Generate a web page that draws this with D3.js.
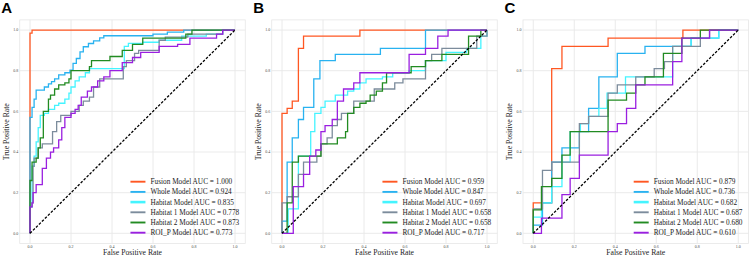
<!DOCTYPE html>
<html lang="en">
<head>
<meta charset="UTF-8">
<title>roc_panels</title>
<script src="https://cdn.jsdelivr.net/npm/d3@7"></script>
<style>
  body { margin: 0; background: #fff; }
  svg { display: block; }
</style>
</head>
<body>
<svg width="749" height="256" id="mainsvg"></svg>
<script>
// ---- data: each point = [fpr, tpr reached at that fpr] (step after) ----
const modelNames = ['Fusion Model', 'Whole Model', 'Habitat Model', 'Habitat 1 Model', 'Habitat 2 Model', 'ROI_P Model'];
const modelColors = ['#FF5722', '#29B2F0', '#44F4FF', '#7C8C9C', '#228B22', '#9A1FE0'];
const panelLabels = ['A', 'B', 'C'];
const ticks = [0, 0.2, 0.4, 0.6, 0.8, 1.0];

const aucA = ['1.000', '0.924', '0.835', '0.778', '0.873', '0.773'];
const aucB = ['0.959', '0.847', '0.697', '0.658', '0.658', '0.717'];
const aucC = ['0.879', '0.736', '0.682', '0.687', '0.680', '0.610'];

// panel A
const fusionA = [[0,0],[0,0.985],[0.01,1.0],[1,1]];
const wholeA = [[0,0.57],[0.01,0.62],[0.02,0.66],[0.03,0.705],[0.07,0.72],[0.09,0.735],[0.105,0.746],[0.12,0.76],[0.14,0.78],[0.17,0.79],[0.195,0.803],[0.21,0.836],[0.226,0.86],[0.244,0.893],[0.26,0.918],[0.285,0.934],[0.31,0.947],[0.34,0.962],[0.36,0.972],[0.60,0.98],[0.67,0.99],[0.75,1.0],[1,1]];
const habitatA = [[0,0.13],[0.01,0.33],[0.02,0.38],[0.03,0.45],[0.04,0.52],[0.05,0.58],[0.07,0.59],[0.09,0.61],[0.12,0.63],[0.14,0.64],[0.17,0.66],[0.19,0.69],[0.20,0.72],[0.22,0.75],[0.24,0.77],[0.27,0.79],[0.29,0.81],[0.46,0.92],[0.48,0.935],[0.55,0.94],[0.63,0.95],[0.74,0.97],[0.86,0.98],[0.94,1.0],[1,1]];
const habitat1A = [[0,0.13],[0.01,0.15],[0.015,0.33],[0.02,0.37],[0.04,0.42],[0.06,0.44],[0.11,0.50],[0.13,0.55],[0.15,0.58],[0.20,0.60],[0.24,0.63],[0.26,0.65],[0.29,0.67],[0.31,0.72],[0.34,0.76],[0.455,0.82],[0.47,0.85],[0.51,0.885],[0.53,0.90],[0.63,0.95],[0.66,0.965],[0.77,0.98],[0.94,1.0],[1,1]];
const habitat2A = [[0,0.26],[0.01,0.35],[0.03,0.37],[0.04,0.42],[0.05,0.47],[0.065,0.60],[0.09,0.66],[0.10,0.68],[0.12,0.71],[0.14,0.73],[0.17,0.74],[0.19,0.76],[0.20,0.80],[0.29,0.82],[0.30,0.85],[0.39,0.87],[0.45,0.90],[0.50,0.93],[0.55,0.96],[0.76,0.98],[0.79,1.0],[1,1]];
const roiA = [[0,0.13],[0.01,0.15],[0.015,0.20],[0.03,0.24],[0.06,0.32],[0.08,0.37],[0.10,0.40],[0.115,0.42],[0.14,0.46],[0.155,0.52],[0.17,0.57],[0.20,0.59],[0.22,0.61],[0.235,0.63],[0.25,0.67],[0.28,0.70],[0.30,0.72],[0.33,0.75],[0.36,0.77],[0.39,0.80],[0.45,0.84],[0.50,0.865],[0.54,0.89],[0.63,0.92],[0.72,0.93],[0.78,0.96],[0.91,0.98],[0.94,1.0],[1,1]];

// panel B
const fusionB = [[0,0.59],[0.025,0.615],[0.05,0.65],[0.08,0.91],[0.105,0.97],[0.38,1.0],[1,1]];
const wholeB = [[0,0.06],[0.025,0.35],[0.05,0.47],[0.08,0.56],[0.105,0.62],[0.155,0.76],[0.185,0.85],[0.26,0.88],[0.48,0.91],[0.70,1.0],[1,1]];
const habitatB = [[0,0],[0.03,0.12],[0.08,0.38],[0.14,0.50],[0.16,0.59],[0.19,0.62],[0.21,0.65],[0.26,0.68],[0.32,0.70],[0.35,0.71],[0.38,0.74],[0.41,0.76],[0.49,0.77],[0.54,0.79],[0.62,0.80],[0.70,0.85],[0.80,0.89],[0.90,0.91],[0.97,0.97],[1.0,1.0]];
const habitat1B = [[0,0.15],[0.025,0.18],[0.08,0.29],[0.105,0.35],[0.17,0.38],[0.19,0.44],[0.22,0.47],[0.245,0.53],[0.27,0.56],[0.29,0.59],[0.35,0.65],[0.45,0.71],[0.55,0.74],[0.59,0.76],[0.70,0.85],[0.73,0.88],[0.78,0.91],[0.95,0.97],[1,1]];
const habitat2B = [[0,0],[0.025,0.15],[0.05,0.35],[0.08,0.38],[0.19,0.44],[0.27,0.47],[0.31,0.50],[0.32,0.59],[0.35,0.62],[0.38,0.64],[0.41,0.65],[0.43,0.68],[0.46,0.70],[0.49,0.74],[0.51,0.79],[0.63,0.82],[0.70,0.85],[0.78,0.88],[0.91,0.97],[0.97,1.0],[1,1]];
const roiB = [[0,0],[0.055,0.23],[0.105,0.29],[0.135,0.38],[0.165,0.41],[0.19,0.50],[0.21,0.53],[0.245,0.56],[0.27,0.65],[0.30,0.71],[0.35,0.74],[0.38,0.79],[0.62,0.88],[0.70,0.91],[0.76,0.97],[0.81,1.0],[1,1]];

// panel C
const fusionC = [[0,0.15],[0.09,0.81],[0.14,0.92],[0.365,0.96],[0.73,1.0],[1,1]];
const wholeC = [[0,0.04],[0.045,0.15],[0.09,0.35],[0.14,0.42],[0.225,0.50],[0.27,0.615],[0.32,0.77],[0.41,0.885],[0.545,0.92],[0.77,0.96],[0.905,1.0],[1,1]];
const habitatC = [[0,0.08],[0.04,0.15],[0.09,0.23],[0.14,0.35],[0.18,0.50],[0.23,0.54],[0.27,0.575],[0.32,0.615],[0.36,0.69],[0.45,0.77],[0.68,0.92],[0.77,0.96],[0.905,1.0],[1,1]];
const habitat1C = [[0,0.12],[0.045,0.31],[0.09,0.35],[0.225,0.54],[0.27,0.575],[0.365,0.69],[0.41,0.73],[0.50,0.77],[0.59,0.81],[0.64,0.845],[0.68,0.92],[0.815,0.96],[0.86,1.0],[1,1]];
const habitat2C = [[0,0.115],[0.04,0.23],[0.09,0.27],[0.14,0.385],[0.18,0.50],[0.365,0.655],[0.455,0.69],[0.50,0.73],[0.545,0.77],[0.635,0.885],[0.725,0.96],[0.815,1.0],[1,1]];
const roiC = [[0,0],[0.04,0.075],[0.14,0.19],[0.18,0.27],[0.225,0.385],[0.365,0.50],[0.41,0.54],[0.455,0.615],[0.50,0.73],[0.68,0.845],[0.725,0.96],[0.86,1.0],[1,1]];

const curves = [
  [fusionA, wholeA, habitatA, habitat1A, habitat2A, roiA],
  [fusionB, wholeB, habitatB, habitat1B, habitat2B, roiB],
  [fusionC, wholeC, habitatC, habitat1C, habitat2C, roiC]
];
const aucs = [aucA, aucB, aucC];

// ---- layout ----
const svg = d3.select('#mainsvg');
const panelLeft = [19.75, 271.75, 523];
const panelW = 225.5;
const panelTop = 19.9, panelBottom = 243.5;
const serif = '"Liberation Serif", "Times New Roman", serif';

panelLabels.forEach((lab, p) => {
  const g = svg.append('g');
  const x = d3.scaleLinear().domain([-0.05, 1.05]).range([panelLeft[p], panelLeft[p] + panelW]);
  const y = d3.scaleLinear().domain([-0.05, 1.05]).range([panelBottom, panelTop]);

  // panel frame + grid
  g.append('rect')
    .attr('x', x(-0.05)).attr('y', y(1.05))
    .attr('width', panelW).attr('height', panelBottom - panelTop)
    .attr('fill', '#fff').attr('stroke', '#e6e6e6').attr('stroke-width', 0.8);
  g.selectAll('.vgrid').data(ticks).enter().append('line')
    .attr('x1', d => x(d)).attr('x2', d => x(d))
    .attr('y1', panelTop).attr('y2', panelBottom)
    .attr('stroke', '#e8e8e8').attr('stroke-width', 0.9);
  g.selectAll('.hgrid').data(ticks).enter().append('line')
    .attr('y1', d => y(d)).attr('y2', d => y(d))
    .attr('x1', x(-0.05)).attr('x2', x(1.05))
    .attr('stroke', '#e8e8e8').attr('stroke-width', 0.9);

  // tick labels (tiny)
  g.selectAll('.xt').data(ticks).enter().append('text')
    .attr('x', d => x(d)).attr('y', panelBottom + 4.5)
    .attr('text-anchor', 'middle').attr('font-size', '4px')
    .attr('font-family', serif).attr('fill', '#4d4d4d')
    .text(d3.format('.1f'));
  g.selectAll('.yt').data(ticks).enter().append('text')
    .attr('x', panelLeft[p] - 1.5).attr('y', d => y(d) + 1.4)
    .attr('text-anchor', 'end').attr('font-size', '4px')
    .attr('font-family', serif).attr('fill', '#4d4d4d')
    .text(d3.format('.1f'));

  // axis titles
  g.append('text')
    .attr('x', x(0.5)).attr('y', 254.5)
    .attr('text-anchor', 'middle').attr('font-size', '7.7px')
    .attr('font-family', serif).attr('fill', '#222')
    .text('False Positive Rate');
  g.append('text')
    .attr('transform', `translate(${panelLeft[p] - 11},${(panelTop + panelBottom) / 2}) rotate(-90)`)
    .attr('text-anchor', 'middle').attr('font-size', '7.7px')
    .attr('font-family', serif).attr('fill', '#222')
    .text('True Positive Rate');

  // panel letter
  g.append('text')
    .attr('x', panelLeft[p] - 18.5).attr('y', 13)
    .attr('font-size', '15px').attr('font-weight', 'bold')
    .attr('font-family', '"Liberation Sans", Arial, sans-serif')
    .attr('fill', '#000')
    .text(lab);

  // ROC curves
  const line = d3.line().x(d => x(d[0])).y(d => y(d[1])).curve(d3.curveStepAfter);
  curves[p].forEach((pts, i) => {
    g.append('path')
      .attr('d', line([[0, 0]].concat(pts)))
      .attr('fill', 'none')
      .attr('stroke', modelColors[i])
      .attr('stroke-width', 1.3)
      .attr('stroke-linejoin', 'miter');
  });

  // diagonal reference
  g.append('line')
    .attr('x1', x(0)).attr('y1', y(0)).attr('x2', x(1)).attr('y2', y(1))
    .attr('stroke', '#000').attr('stroke-width', 1.3)
    .attr('stroke-dasharray', '2.6,1.6');

  // legend
  const lx = x(0.49), ly0 = 181.7, lstep = 10.2;
  modelNames.forEach((name, i) => {
    g.append('line')
      .attr('x1', lx).attr('x2', lx + 15)
      .attr('y1', ly0 + i * lstep).attr('y2', ly0 + i * lstep)
      .attr('stroke', modelColors[i])
      .attr('stroke-width', i === 2 ? 2.6 : 1.9);
    g.append('text')
      .attr('x', lx + 20).attr('y', ly0 + i * lstep + 2.5)
      .attr('font-size', '7.3px').attr('font-family', serif)
      .attr('fill', '#222')
      .text(`${name} AUC = ${aucs[p][i]}`);
  });
});
</script>
</body>
</html>
